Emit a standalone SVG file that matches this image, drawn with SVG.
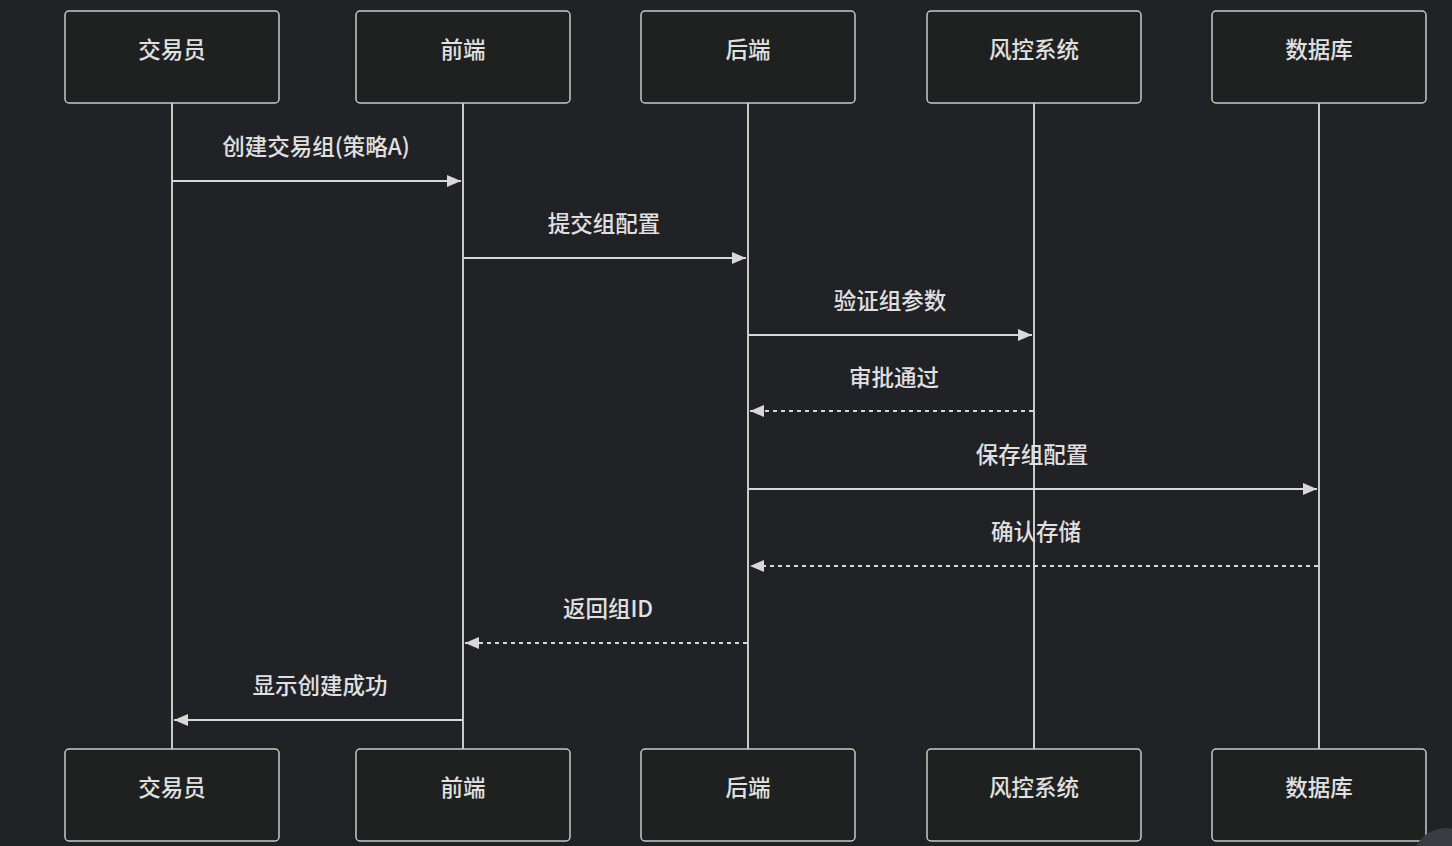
<svg xmlns="http://www.w3.org/2000/svg" width="1452" height="846" viewBox="0 0 1452 846">
<defs>
<style>
.box{fill:#1f2020;stroke:#c9c9c9;stroke-width:1.5}
.t{font-family:"Noto Sans CJK SC","Noto Sans",sans-serif;font-size:22.5px;fill:#e0e0e0;text-anchor:middle;dominant-baseline:central;font-weight:500}
.life{stroke:#c9c9c9;stroke-width:2}
.msg{stroke:#d8d8d8;stroke-width:2;fill:none}
.dash{stroke-dasharray:4 4}
.ml{font-family:"Noto Sans CJK SC","Noto Sans",sans-serif;font-size:22.5px;fill:#e0e0e0;text-anchor:middle;dominant-baseline:central;font-weight:500}
</style>
<marker id="ah" viewBox="0 0 14 12" refX="14" refY="6" markerWidth="14" markerHeight="12" markerUnits="userSpaceOnUse" orient="auto">
<path d="M0,0 L14,6 L0,12 Z" fill="#d8d8d8"/>
</marker>
</defs>
<rect width="1452" height="846" fill="#212226"/>
<g id="lifelines">
<line class="life" x1="172" y1="103" x2="172" y2="749"/>
<line class="life" x1="463" y1="103" x2="463" y2="749"/>
<line class="life" x1="748" y1="103" x2="748" y2="749"/>
<line class="life" x1="1034" y1="103" x2="1034" y2="749"/>
<line class="life" x1="1319" y1="103" x2="1319" y2="749"/>
</g>
<g id="node-trader-top"><rect class="box" x="65" y="11" width="214" height="92" rx="4"/><text class="t" x="172" y="48">交易员</text></g>
<g id="node-frontend-top"><rect class="box" x="356" y="11" width="214" height="92" rx="4"/><text class="t" x="463" y="48">前端</text></g>
<g id="node-backend-top"><rect class="box" x="641" y="11" width="214" height="92" rx="4"/><text class="t" x="748" y="48">后端</text></g>
<g id="node-risk-top"><rect class="box" x="927" y="11" width="214" height="92" rx="4"/><text class="t" x="1034" y="48">风控系统</text></g>
<g id="node-db-top"><rect class="box" x="1212" y="11" width="214" height="92" rx="4"/><text class="t" x="1319" y="48">数据库</text></g>
<g id="node-trader-bottom"><rect class="box" x="65" y="749" width="214" height="92" rx="4"/><text class="t" x="172" y="786">交易员</text></g>
<g id="node-frontend-bottom"><rect class="box" x="356" y="749" width="214" height="92" rx="4"/><text class="t" x="463" y="786">前端</text></g>
<g id="node-backend-bottom"><rect class="box" x="641" y="749" width="214" height="92" rx="4"/><text class="t" x="748" y="786">后端</text></g>
<g id="node-risk-bottom"><rect class="box" x="927" y="749" width="214" height="92" rx="4"/><text class="t" x="1034" y="786">风控系统</text></g>
<g id="node-db-bottom"><rect class="box" x="1212" y="749" width="214" height="92" rx="4"/><text class="t" x="1319" y="786">数据库</text></g>
<g id="connectors">
<line class="msg" x1="173" y1="181" x2="461" y2="181" marker-end="url(#ah)"/>
<text class="ml" x="316" y="145">创建交易组(策略A)</text>
<line class="msg" x1="464" y1="258" x2="746" y2="258" marker-end="url(#ah)"/>
<text class="ml" x="604" y="222">提交组配置</text>
<line class="msg" x1="749" y1="335" x2="1032" y2="335" marker-end="url(#ah)"/>
<text class="ml" x="890" y="299">验证组参数</text>
<line class="msg dash" x1="1033" y1="411" x2="750" y2="411" marker-end="url(#ah)"/>
<text class="ml" x="894" y="376">审批通过</text>
<line class="msg" x1="749" y1="489" x2="1317" y2="489" marker-end="url(#ah)"/>
<text class="ml" x="1032" y="453">保存组配置</text>
<line class="msg dash" x1="1318" y1="566" x2="750" y2="566" marker-end="url(#ah)"/>
<text class="ml" x="1036" y="530">确认存储</text>
<line class="msg dash" x1="747" y1="643" x2="465" y2="643" marker-end="url(#ah)"/>
<text class="ml" x="608" y="607">返回组ID</text>
<line class="msg" x1="462" y1="720" x2="174" y2="720" marker-end="url(#ah)"/>
<text class="ml" x="320" y="684">显示创建成功</text>
</g>
<circle cx="1446" cy="862" r="34" fill="#3a3b41"/>
</svg>
